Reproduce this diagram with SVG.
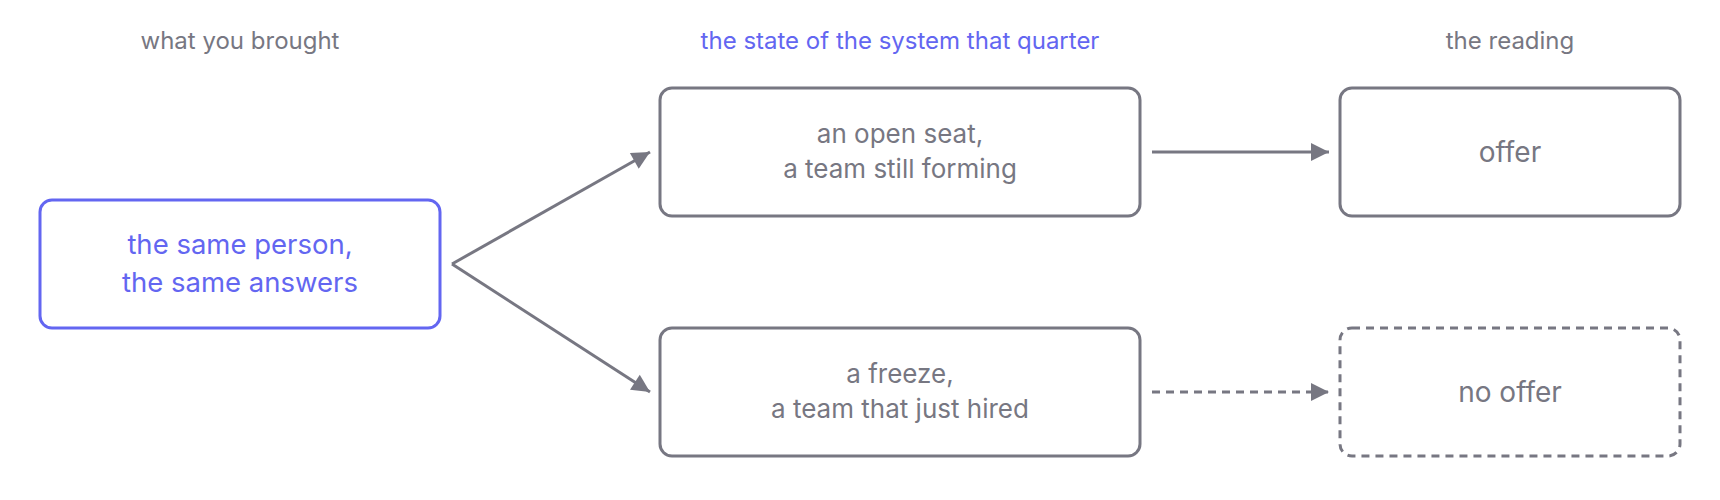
<svg xmlns="http://www.w3.org/2000/svg" width="1720" height="500" viewBox="0 0 1720 500">
<style>
text{font-family:Inter,"Noto Sans",sans-serif;text-anchor:middle}
.hdr{font-size:24px;fill:#777782}
.hdr.accent{fill:#6366f1}
.box{fill:#ffffff;stroke:#777782;stroke-width:3}
.box.accent{stroke:#6366f1}
.box.dashed{stroke-dasharray:8 6}
.lbl{font-size:26px;fill:#777782}
.lbl.big{font-size:28px}
.lbl.accent{fill:#6366f1;font-size:27.5px}
.edge{fill:none;stroke:#777782;stroke-width:3}
.edge.dashed{stroke-dasharray:8 6}
</style>
<defs>
<marker id="arr" viewBox="0 0 10 10" refX="10" refY="5" markerWidth="6.5" markerHeight="6" markerUnits="strokeWidth" orient="auto">
<path d="M0,0 L10,5 L0,10 z" fill="#777782"/>
</marker>
</defs>
<g id="headers">
<text class="hdr" x="240" y="49">what you brought</text>
<text class="hdr accent" x="900" y="49">the state of the system that quarter</text>
<text class="hdr" x="1510" y="49">the reading</text>
</g>
<g id="connectors">
<path class="edge" d="M452,264 L650,152" marker-end="url(#arr)"/>
<path class="edge" d="M452,264 L650,392" marker-end="url(#arr)"/>
<path class="edge" d="M1152,152 L1329,152" marker-end="url(#arr)"/>
<path class="edge dashed" d="M1152,392 L1329,392" marker-end="url(#arr)"/>
</g>
<g id="node-person">
<rect class="box accent" x="40" y="200" width="400" height="128" rx="12"/>
<text class="lbl accent" x="240" y="254">the same person,</text>
<text class="lbl accent" x="240" y="292">the same answers</text>
</g>
<g id="node-open">
<rect class="box" x="660" y="88" width="480" height="128" rx="12"/>
<text class="lbl" x="900" y="143">an open seat,</text>
<text class="lbl" x="900" y="178">a team still forming</text>
</g>
<g id="node-freeze">
<rect class="box" x="660" y="328" width="480" height="128" rx="12"/>
<text class="lbl" x="900" y="383">a freeze,</text>
<text class="lbl" x="900" y="418">a team that just hired</text>
</g>
<g id="node-offer">
<rect class="box" x="1340" y="88" width="340" height="128" rx="12"/>
<text class="lbl big" x="1510" y="162">offer</text>
</g>
<g id="node-nooffer">
<rect class="box dashed" x="1340" y="328" width="340" height="128" rx="12"/>
<text class="lbl big" x="1510" y="402">no offer</text>
</g>
</svg>
